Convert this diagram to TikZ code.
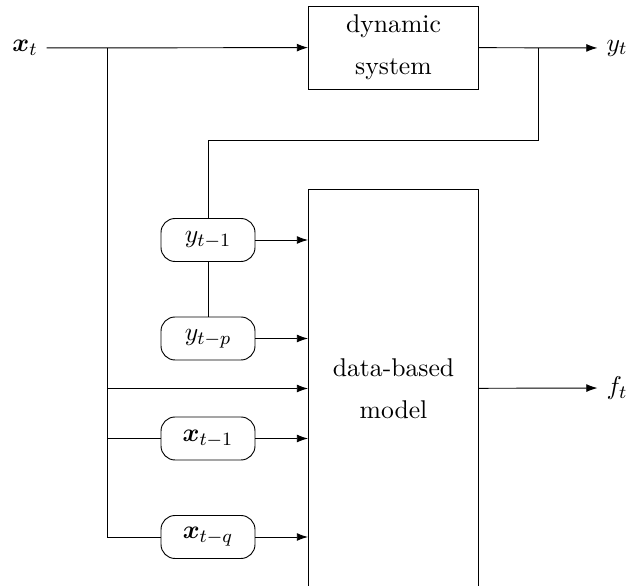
\documentclass[tikz,border=0pt,11pt]{standalone}
\usepackage{amsmath}
\usepackage{tikz}
\usetikzlibrary{calc, arrows.meta}
\tikzstyle{block} = [draw, rectangle, align=center, minimum width=2.55cm, inner sep=0pt]
\tikzstyle{delay} = [draw, rectangle, rounded corners=6pt, minimum width=1.41cm, minimum height=0.645cm, inner sep=0pt]
\tikzstyle{signal} = [line width=0.4pt]

\begin{document}
\begin{tikzpicture}[x=0.015cm, y=-0.015cm, >={Latex[length=4.8pt, width=3.4pt]}, line width=.4pt]
		
		\useasboundingbox (0,0) rectangle (643,586);
		
		% Coordinates
		\coordinate (br) at (107,48);
		\coordinate (fb) at (538,48);
		\coordinate (fbh) at (538,140);
		
		% Nodes
		\node (xin) at (25,48) {$\boldsymbol{x}_t$};
		\node (sys) [block, minimum height=1.245cm] at (393.5,47.5) {dynamic\\[4.5pt]system};
		\node (yout) at (617,48) {$y_t$};
		\node (model) [block, minimum height=5.985cm] at (393.5,388.5) {data-based\\[4.5pt]model};
		\node (fout) at (617,388) {$f_t$};
		\node (y1) [delay] at (208,240) {$y_{t-1}$};
		\node (yp) [delay] at (208,338.5) {$y_{t-p}$};
		\node (x1) [delay] at (208,438.5) {$\boldsymbol{x}_{t-1}$};
		\node (xq) [delay] at (208,537) {$\boldsymbol{x}_{t-q}$};
		
		% System path
		\draw[signal, ->] (xin) -- (sys);
		\draw[signal, ->] (sys) -- (yout);
		\draw[signal] (fb) -- (fbh) -| (y1.north);
		\draw[signal] (y1) -- (yp);
		
		% Input branch
		\draw[signal] (br) |- (xq.west);
		\draw[signal] (br |- x1) -- (x1);
		\draw[signal, ->] (br |- model) -- (model);
		
		% Regressors into model
		\foreach \n in {y1, yp, x1, xq}
		{
			\draw[signal, ->] (\n.east) -- (\n.east -| model.west);
		}
		\draw[signal, ->] (model) -- (fout);
	\end{tikzpicture}
\end{document}
